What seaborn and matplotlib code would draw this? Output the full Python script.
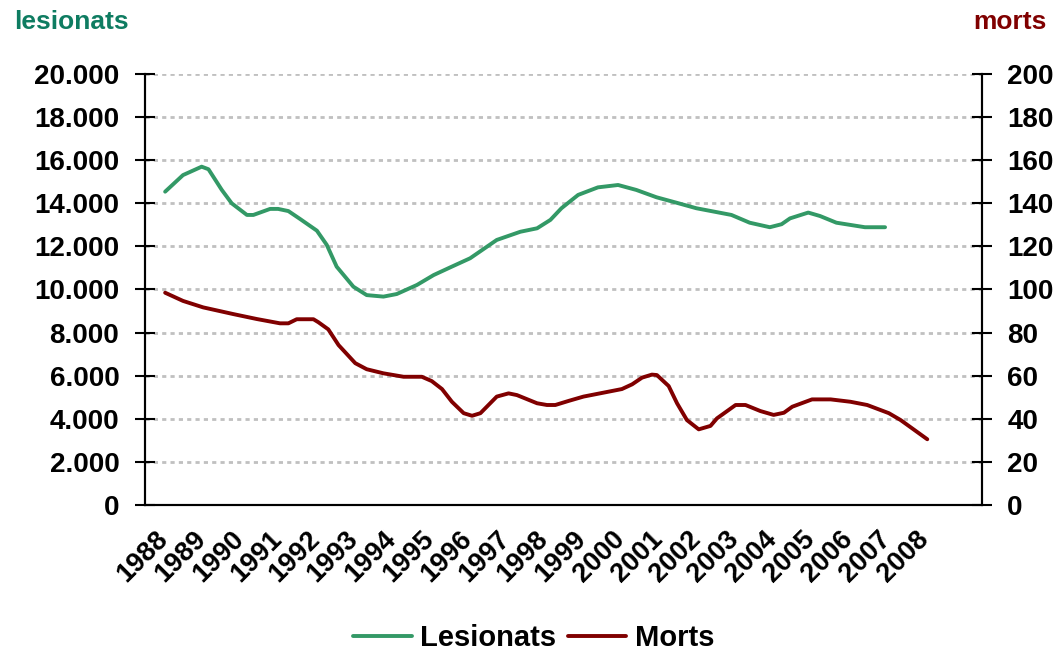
import numpy as np
import pandas as pd
import seaborn as sns
import matplotlib.pyplot as plt
from matplotlib.ticker import FuncFormatter

# =========================
# Data
# =========================
years = list(range(1988, 2009))

les_t = [1988.03, 1988.5, 1988.99, 1989.17, 1989.52, 1989.78, 1990.18, 1990.35,
         1990.79, 1991.0, 1991.27, 1991.58, 1992.02, 1992.28, 1992.54, 1992.98,
         1993.33, 1993.77, 1994.12, 1994.65, 1995.09, 1995.53, 1996.05, 1996.75,
         1997.37, 1997.81, 1998.16, 1998.45, 1998.89, 1999.41, 1999.94, 2000.42,
         2000.95, 2001.47, 2002.0, 2002.92, 2003.4, 2003.93, 2004.24, 2004.46,
         2004.94, 2005.25, 2005.68, 2006.43, 2006.96]
les_v = [14540, 15310, 15700, 15580, 14620, 14000, 13460, 13460,
         13740, 13740, 13640, 13270, 12730, 12070, 11060, 10130,
         9740, 9670, 9790, 10210, 10670, 11030, 11450, 12300,
         12680, 12840, 13230, 13770, 14390, 14740, 14850, 14620,
         14280, 14030, 13770, 13460, 13100, 12890, 13030, 13300,
         13570, 13410, 13100, 12890, 12890]

mor_t = [1988.03, 1988.5, 1989.03, 1989.82, 1990.44, 1991.05, 1991.27, 1991.49,
         1991.93, 1992.06, 1992.32, 1992.59, 1993.03, 1993.33, 1993.77, 1994.3,
         1994.78, 1995.04, 1995.31, 1995.57, 1995.88, 1996.1, 1996.32, 1996.75,
         1997.06, 1997.28, 1997.81, 1998.07, 1998.29, 1998.64, 1999.03, 2000.04,
         2000.31, 2000.57, 2000.83, 2000.96, 2001.27, 2001.49, 2001.75, 2002.06,
         2002.37, 2002.54, 2003.03, 2003.29, 2003.68, 2004.03, 2004.3, 2004.52,
         2005.04, 2005.53, 2006.05, 2006.49, 2007.06, 2007.37, 2008.07]
mor_v = [98.5, 94.7, 91.7, 88.6, 86.3, 84.3, 84.3, 86.2,
         86.2, 84.8, 81.5, 74.2, 65.8, 63.0, 61.1, 59.5,
         59.5, 57.5, 53.8, 47.9, 42.6, 41.4, 42.6, 50.3,
         51.8, 51.0, 47.2, 46.4, 46.4, 48.3, 50.3, 53.8,
         56.0, 59.1, 60.5, 60.3, 55.2, 47.2, 39.4, 35.1,
         36.7, 40.2, 46.4, 46.4, 43.6, 41.8, 42.8, 45.6,
         49.0, 49.0, 47.9, 46.4, 42.6, 39.4, 30.5]

df_les = pd.DataFrame({"t": les_t, "v": les_v})
df_mor = pd.DataFrame({"t": mor_t, "v": mor_v})

green = "#339966"
red = "#800000"

sns.set_theme(style="white")
plt.rcParams["font.family"] = ["Liberation Sans", "DejaVu Sans"]
plt.rcParams["font.weight"] = "bold"

fig, ax = plt.subplots(figsize=(10.56, 6.51), dpi=100)
fig.subplots_adjust(left=0.1373, right=0.9296, top=0.8863, bottom=0.2243)
ax2 = ax.twinx()

sns.lineplot(data=df_les, x="t", y="v", ax=ax, color=green, linewidth=2.8,
             sort=False, label="Lesionats", legend=False)
sns.lineplot(data=df_mor, x="t", y="v", ax=ax2, color=red, linewidth=2.8,
             sort=False, label="Morts", legend=False)

# axes ranges
ax.set_xlim(1987.5, 2009.5)
ax.set_ylim(0, 20000)
ax2.set_ylim(0, 200)
ax.set_yticks(range(0, 20001, 2000))
ax2.set_yticks(range(0, 201, 20))
ax.yaxis.set_major_formatter(FuncFormatter(lambda v, p: f"{int(v):,}".replace(",", ".")))

ax.set_xlabel("")
ax.set_ylabel("")
ax2.set_ylabel("")

# dashed grid
ax.yaxis.grid(True, color="#C0C0C0", linestyle=(0, (1.5, 1.5)), linewidth=2)
ax.set_axisbelow(True)

# x ticks: marks between years, labels on years
ax.set_xticks(years)
ax.set_xticklabels([str(y) for y in years], rotation=45, ha="right",
                   va="center", rotation_mode="anchor", fontsize=19.5, fontweight="bold")
ax.set_xticks(np.arange(1987.5, 2010, 1), minor=True)
ax.tick_params(axis="x", which="major", length=0, pad=22, labelcolor="black")
ax.tick_params(axis="x", which="minor", direction="inout", length=11, width=1.5, color="black")

for a in (ax, ax2):
    a.tick_params(axis="y", direction="inout", length=15, width=1.5, color="black",
                  labelsize=20, pad=11, labelcolor="black")
for lab in ax.get_yticklabels() + ax2.get_yticklabels():
    lab.set_fontweight("bold")

for a in (ax, ax2):
    a.spines["top"].set_visible(False)
    for s in ("left", "right", "bottom"):
        a.spines[s].set_color("black")
        a.spines[s].set_linewidth(1.5)

# axis titles
fig.text(0.0133, 0.966, "lesionats", color="#0E7C61", fontsize=19, fontweight="bold",
         ha="left", va="center")
fig.text(0.991, 0.966, "morts", color=red, fontsize=19, fontweight="bold",
         ha="right", va="center")

h1, l1 = ax.get_legend_handles_labels()
h2, l2 = ax2.get_legend_handles_labels()
fig.legend(h1 + h2, l1 + l2, loc="center", bbox_to_anchor=(534 / 1056, 1 - 638 / 651),
           ncol=2, frameon=False, handlelength=2.0, handletextpad=0.3, columnspacing=0.4,
           prop={"size": 21, "weight": "bold"}, labelcolor="black")

fig.savefig("out.png", dpi=100)
